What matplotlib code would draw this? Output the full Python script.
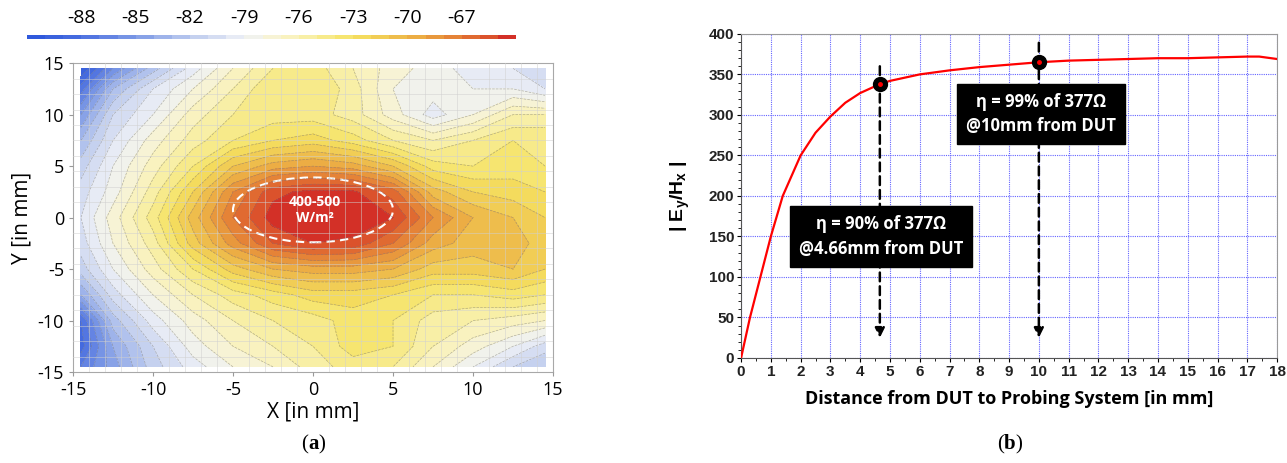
import matplotlib
matplotlib.use("Agg")
import matplotlib.pyplot as plt
import numpy as np
from matplotlib.colors import LinearSegmentedColormap, Normalize
from matplotlib.patches import Ellipse
from matplotlib.offsetbox import TextArea, HPacker, AnchoredOffsetbox

plt.rcParams['axes.unicode_minus'] = False
plt.rcParams['mathtext.fontset'] = 'custom'
plt.rcParams['mathtext.rm'] = 'Liberation Sans'
plt.rcParams['mathtext.bf'] = 'Liberation Sans:bold'
plt.rcParams['mathtext.it'] = 'Liberation Sans:italic'

# ---- data, panel (a): field map [dB] on a coarse grid
x_mm = [-14.5, -12.5, -10, -7.5, -5, -2.5, 0, 2.5, 5, 7.5, 10, 12.5, 14.5]
y_mm = [14.5, 12.5, 10, 7.5, 5, 2.5, 0, -2.5, -5, -7.5, -10, -12.5, -14.5]
row_p145 = [-90, -86, -82.5, -79.5, -77, -75, -74.5, -76, -77.5, -78.5, -79.5, -80, -81]
row_p125 = [-87.5, -83, -80, -78, -76, -74, -74, -75.5, -78, -78.5, -79, -79, -80]
row_p100 = [-85, -81, -79, -76.5, -75, -74.5, -74.5, -75.5, -77.5, -79.5, -78, -76, -76]
row_p75 = [-83, -80, -77.5, -75.5, -74, -73, -72.5, -73.5, -75, -76, -75, -74, -74]
row_p50 = [-81.5, -79, -76.5, -74, -71, -69.5, -69, -69.5, -71, -73.5, -74, -73.5, -74]
row_p25 = [-80.5, -78.5, -75.5, -72, -68, -65.3, -64.7, -64.8, -66.5, -70.5, -72, -72.5, -73]
row_000 = [-80, -77.5, -74.5, -70.5, -67, -64.5, -64.1, -64.1, -65, -68, -70, -71, -72]
row_m25 = [-80.5, -78, -75.5, -71.5, -68.5, -66, -65, -65.3, -67, -69.5, -70.5, -70.5, -71.5]
row_m50 = [-81.5, -79, -76.5, -74, -71.5, -70, -69.5, -69.5, -70, -71.5, -71.5, -71, -72]
row_m75 = [-84, -80.5, -78, -76, -74.5, -73.5, -72.5, -72.5, -73, -74, -74, -73.5, -74]
row_m100 = [-88, -82.5, -79.5, -77.5, -76, -75, -74.5, -73.5, -74, -75.5, -76, -76.5, -77]
row_m125 = [-88.5, -84, -81, -78.5, -77, -76, -75, -73.5, -74, -76, -77.5, -79, -80.5]
row_m145 = [-87, -84.5, -81.5, -79.5, -78, -77, -75.5, -74.5, -75, -77, -79, -81, -82]
cbar_ticks = [-88, -85, -82, -79, -76, -73, -70, -67]

# ---- data, panel (b): |Ey/Hx| vs distance
dist = [0, 0.3, 0.65, 1.0, 1.4, 2.0, 2.5, 3.0, 3.5, 4.0, 4.66, 5.0, 6, 7, 8, 9, 10,
        11, 12, 13, 14, 15, 16, 17, 17.4, 18]
ratio = [0, 50, 100, 150, 200, 250, 278, 298, 315, 327, 338, 342, 350, 355, 359, 362, 365,
         367, 368, 369, 370, 370, 371, 372, 372, 369]
mark_x = [4.66, 10]
mark_y = [338, 365]
notes = ["\u03b7 = 90% of 377\u03a9\n@4.66mm from DUT", "\u03b7 = 99% of 377\u03a9\n@10mm from DUT"]


def panel_label(fig, letter, xf, yf):
    parts = [TextArea('(', textprops=dict(family='Liberation Serif', size=15)),
             TextArea(letter, textprops=dict(family='Liberation Serif', size=15,
                                             weight='bold')),
             TextArea(')', textprops=dict(family='Liberation Serif', size=15))]
    box = HPacker(children=parts, align='baseline', pad=0, sep=0)
    ab = AnchoredOffsetbox(loc='center', child=box, frameon=False, pad=0,
                           bbox_to_anchor=(xf, yf), bbox_transform=fig.transFigure)
    fig.add_artist(ab)


fig = plt.figure(figsize=(12.87, 4.63), dpi=100)

# ---------------- panel (a)
ax = fig.add_axes([0.0567, 0.1965, 0.373, 0.667])
Z = np.array([row_p145, row_p125, row_p100, row_p75, row_p50, row_p25, row_000,
              row_m25, row_m50, row_m75, row_m100, row_m125, row_m145])
X, Y = np.meshgrid(x_mm, y_mm)
vmin, vmax = -91, -64
anchors = [(-91, '#2a55db'), (-88, '#4a6fe0'), (-85, '#7f9be6'), (-82, '#bccaee'),
           (-79, '#eff1f6'), (-77, '#f9f4cc'), (-75, '#f8ed98'), (-73, '#f5e262'),
           (-71, '#f0c650'), (-69, '#eaa440'), (-67, '#e37834'), (-65, '#d8462a'),
           (-64, '#d02024')]
cmap = LinearSegmentedColormap.from_list(
    'fld', [((v - vmin) / (vmax - vmin), c) for v, c in anchors])
levels = np.arange(vmin, vmax + 1, 1)
cf = ax.contourf(X, Y, Z, levels=levels, cmap=cmap, norm=Normalize(vmin, vmax))
ax.contour(X, Y, Z, levels=levels, colors='#7a7a7a', linewidths=0.5, alpha=0.55)
ax.set_xlim(-15, 15)
ax.set_ylim(-15, 15)
ax.set_xticks([-15, -10, -5, 0, 5, 10, 15])
ax.set_yticks([-15, -10, -5, 0, 5, 10, 15])
ax.set_xticks(np.arange(-15, 15.1, 1), minor=True)
ax.set_yticks(np.arange(-15, 15.1, 1.5), minor=True)
ax.grid(which='minor', color='#d0d0d0', lw=0.6, alpha=0.6)
ax.set_axisbelow(False)
ax.tick_params(which='minor', length=0)
ax.tick_params(which='major', length=3, color='#999999', labelsize=13)
for s in ax.spines.values():
    s.set_color('#a8a8a8')
for lab in ax.get_xticklabels() + ax.get_yticklabels():
    lab.set_fontfamily('Open Sans')
ax.set_xlabel('X [in mm]', fontsize=15, family='Open Sans', labelpad=2)
ax.set_ylabel('Y [in mm]', fontsize=15, family='Open Sans', labelpad=4)
ax.add_patch(Ellipse((0, 0.75), 10, 6.3, fill=False, edgecolor='white', lw=1.5,
                     ls=(0, (4, 2.5))))
ax.text(0.1, 0.75, '400-500\nW/m\u00b2', color='white', fontsize=10, fontweight='bold',
        family='Open Sans', ha='center', va='center', linespacing=1.2)

cax = fig.add_axes([0.021, 0.9158, 0.38, 0.0086])
cb = fig.colorbar(cf, cax=cax, orientation='horizontal', ticks=cbar_ticks)
cb.outline.set_visible(False)
cax.xaxis.set_ticks_position('top')
cax.tick_params(length=0, labelsize=14, pad=6)
for lab in cax.get_xticklabels():
    lab.set_fontfamily('Open Sans')

panel_label(fig, 'a', 0.2433, 0.04)

# ---------------- panel (b)
bx = fig.add_axes([0.5758, 0.2268, 0.4165, 0.70])
bx.plot(dist, ratio, color='#ff0000', lw=1.6, zorder=3)
bx.set_xlim(0, 18)
bx.set_ylim(0, 400)
bx.set_xticks(np.arange(0, 19, 1))
bx.set_yticks(np.arange(0, 401, 50))
bx.set_xticks(np.arange(0, 18.1, 0.5), minor=True)
bx.set_yticks(np.arange(0, 401, 10), minor=True)
bx.grid(which='major', color='#6464ff', lw=0.8, ls=(0, (1, 1)))
bx.tick_params(which='major', direction='out', length=3, labelsize=11, pad=2)
bx.tick_params(which='minor', direction='out', length=2)
for lab in bx.get_xticklabels() + bx.get_yticklabels():
    lab.set_fontfamily(['Liberation Sans Narrow', 'Liberation Sans'])
    lab.set_fontweight('bold')
    lab.set_color('#222222')
bx.spines['top'].set_color('#9a9a9a')
bx.spines['right'].set_color('#9a9a9a')
bx.spines['left'].set_color('#555555')
bx.spines['bottom'].set_color('#555555')
bx.set_xlabel('Distance from DUT to Probing System [in mm]', fontsize=13,
              fontweight='bold', family='Open Sans', labelpad=8)
bx.set_ylabel(r'| E$_\mathbf{y}$/H$_\mathbf{x}$ |', fontsize=14, fontweight='bold',
              labelpad=12, family='Liberation Sans')

# dashed arrows + markers
arrow_top = [360, 389]
for xm, ym, yt in zip(mark_x, mark_y, arrow_top):
    bx.annotate('', xy=(xm, 25), xytext=(xm, yt),
                arrowprops=dict(arrowstyle='-|>', color='black', lw=1.8, ls=(0, (3.5, 2)),
                                mutation_scale=14, shrinkA=0, shrinkB=0), zorder=4)
    bx.plot([xm], [ym], 'o', color='black', ms=10, zorder=5)
    bx.plot([xm], [ym], 'o', color='#ff0000', ms=2.5, zorder=6)

box_pos = [(4.7, 150), (10.07, 301)]
for (bxp, byp), note in zip(box_pos, notes):
    bx.text(bxp, byp, note, ha='center', va='center', color='white', fontsize=12,
            fontweight='bold', family='Open Sans', linespacing=1.45, zorder=7,
            bbox=dict(boxstyle='square,pad=0.55', fc='black', ec='black'))

panel_label(fig, 'b', 0.7848, 0.04)

fig.savefig('out.png', dpi=100)
